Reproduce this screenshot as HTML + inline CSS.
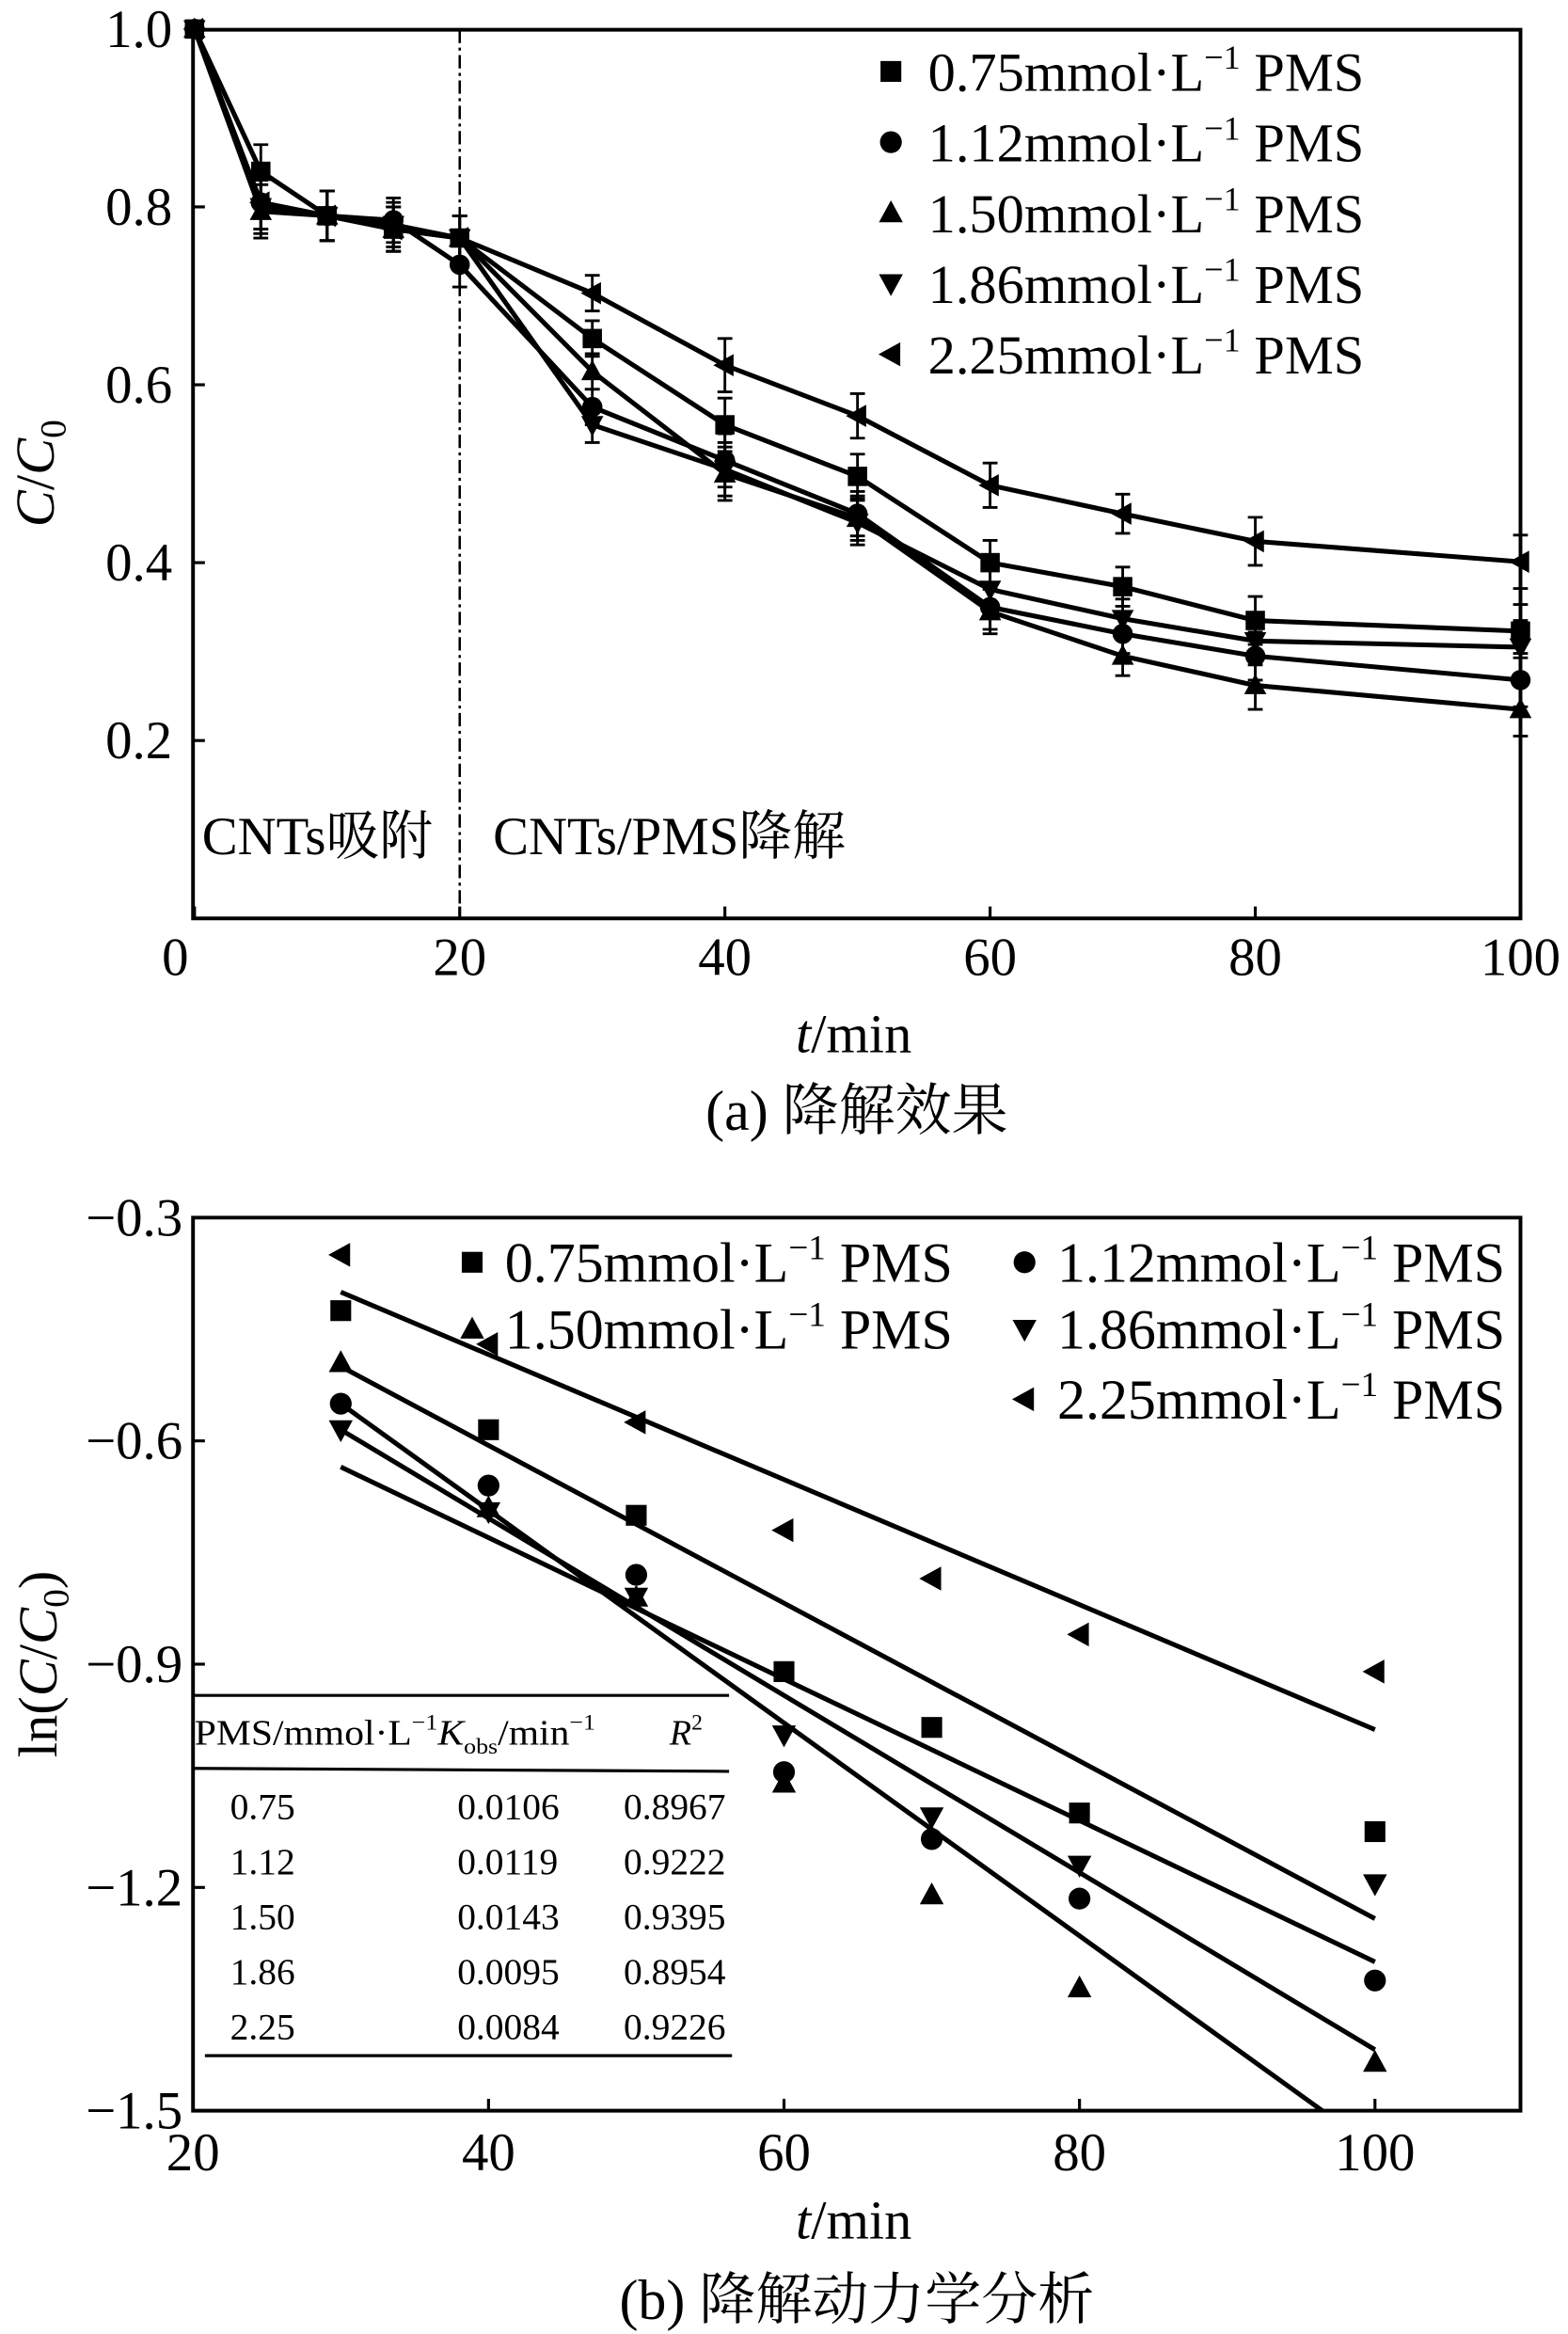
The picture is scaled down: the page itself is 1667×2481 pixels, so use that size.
<!DOCTYPE html>
<html><head><meta charset="utf-8"><style>
html,body{margin:0;padding:0;background:#fff;}
svg{display:block;}
text{font-family:"Liberation Serif","Noto Serif CJK SC","Noto Sans CJK SC",serif;fill:#000;}
</style></head><body>
<svg id="fig" xmlns="http://www.w3.org/2000/svg" width="1667" height="2481" viewBox="0 0 1056 1568" preserveAspectRatio="none">
<g id="ga"></g>
<g id="gb"></g>
</svg>
<script>
// ---------- Chart A data ----------
const timesA = [0, 5, 10, 15, 20, 30, 40, 50, 60, 70, 80, 100];
const seriesNames = ["0.75", "1.12", "1.50", "1.86", "2.25"];
const valA075 = [1.0, 0.84, 0.79, 0.775, 0.765, 0.652, 0.555, 0.497, 0.40, 0.373, 0.335, 0.323];
const valA112 = [1.0, 0.805, 0.79, 0.785, 0.735, 0.575, 0.515, 0.455, 0.35, 0.32, 0.295, 0.268];
const valA150 = [1.0, 0.795, 0.79, 0.775, 0.765, 0.615, 0.50, 0.45, 0.345, 0.295, 0.262, 0.235];
const valA186 = [1.0, 0.80, 0.79, 0.78, 0.765, 0.555, 0.505, 0.445, 0.37, 0.337, 0.312, 0.305];
const valA225 = [1.0, 0.805, 0.79, 0.775, 0.765, 0.703, 0.622, 0.565, 0.487, 0.455, 0.424, 0.401];
const errA = [0.005, 0.03, 0.028, 0.025, 0.025, 0.02, 0.03, 0.025, 0.025, 0.022, 0.027, 0.03];
const xTicksA = [0, 20, 40, 60, 80, 100];
const yTicksA = [0.2, 0.4, 0.6, 0.8, 1.0];
const yTickLabelsA = ["0.2", "0.4", "0.6", "0.8", "1.0"];
// ---------- Chart B data ----------
const timesB = [30, 40, 50, 60, 70, 80, 100];
const valB075 = [-0.425, -0.585, -0.70, -0.91, -0.985, -1.10, -1.125];
const valB112 = [-0.55, -0.66, -0.78, -1.045, -1.135, -1.215, -1.325];
const valB150 = [-0.495, -0.69, -0.81, -1.06, -1.21, -1.335, -1.435];
const valB186 = [-0.585, -0.695, -0.81, -0.995, -1.105, -1.17, -1.195];
const valB225 = [-0.35, -0.47, -0.575, -0.72, -0.785, -0.86, -0.91];
const fitStart = [-0.50, -0.585, -0.55, -0.635, -0.40];
const fitSlope = [-0.0106, -0.0119, -0.0143, -0.0095, -0.0084];
const xTicksB = [20, 40, 60, 80, 100];
const yTicksB = [-0.3, -0.6, -0.9, -1.2, -1.5];
const yTickLabelsB = ["\u22120.3", "\u22120.6", "\u22120.9", "\u22121.2", "\u22121.5"];
const tableK = ["0.0106", "0.0119", "0.0143", "0.0095", "0.0084"];
const tableR2 = ["0.8967", "0.9222", "0.9395", "0.8954", "0.9226"];

const NS = "http://www.w3.org/2000/svg";
function mk(parent, tag, attrs, txt) {
  const e = document.createElementNS(NS, tag);
  for (const k in attrs) e.setAttribute(k, attrs[k]);
  if (txt !== undefined) e.textContent = txt;
  parent.appendChild(e);
  return e;
}
function marker(g, kind, cx, cy, s) {
  let e;
  if (kind === 0) e = mk(g, "rect", {x: cx - s, y: cy - s, width: 2 * s, height: 2 * s});
  else if (kind === 1) e = mk(g, "circle", {cx: cx, cy: cy, r: s * 1.05});
  else if (kind === 2) e = mk(g, "polygon", {points: `${cx},${cy - s * 1.2} ${cx - s * 1.15},${cy + s * 0.9} ${cx + s * 1.15},${cy + s * 0.9}`});
  else if (kind === 3) e = mk(g, "polygon", {points: `${cx},${cy + s * 1.2} ${cx - s * 1.15},${cy - s * 0.9} ${cx + s * 1.15},${cy - s * 0.9}`});
  else e = mk(g, "polygon", {points: `${cx - s * 1.2},${cy} ${cx + s * 0.9},${cy - s * 1.15} ${cx + s * 0.9},${cy + s * 1.15}`});
  e.setAttribute('fill', '#000');
  return e;
}
function legendLabel(g, x, y, name, size) {
  const t = mk(g, "text", {x: x, y: y, "font-size": size});
  const a = document.createElementNS(NS, "tspan"); a.textContent = name + "mmol\u00B7L"; t.appendChild(a);
  const b = document.createElementNS(NS, "tspan"); b.setAttribute("dy", -size * 0.4); b.setAttribute("font-size", size * 0.62); b.textContent = "\u22121"; t.appendChild(b);
  const c = document.createElementNS(NS, "tspan"); c.setAttribute("dy", size * 0.4); c.textContent = " PMS"; t.appendChild(c);
  return t;
}

// ================= Chart A =================
(function () {
  const g = document.getElementById("ga");
  const L = 130, R = 1024, T = 20, B = 617;
  const xs = t => 131 + t * 8.93;
  const ys = v => 617 - v * 597.5;
  const ax = mk(g, "path", {d: `M${L},${T}H${R}V${B}H${L}Z`, fill: "none", stroke: "#000", "stroke-width": 2.5});
  
  
  xTicksA.forEach(t => {
    mk(g, "line", {x1: xs(t), x2: xs(t), y1: B, y2: B - 8, stroke: "#000", "stroke-width": 2});
    const lb = mk(g, "text", {x: t === 0 ? 118 : xs(t), y: 655, "font-size": 36, "text-anchor": "middle"}, String(t));
    
    
  });
  yTicksA.forEach((v, i) => {
    mk(g, "line", {x1: L, x2: L + 8, y1: ys(v), y2: ys(v), stroke: "#000", "stroke-width": 2});
    const lb = mk(g, "text", {x: 116, y: ys(v) + 12, "font-size": 36, "text-anchor": "end"}, yTickLabelsA[i]);
    
    
  });
  const dl = mk(g, "line", {x1: xs(20), x2: xs(20), y1: T, y2: B, stroke: "#000", "stroke-width": 1.6, "stroke-dasharray": "9 3 2 3"});
  
  
  const p1 = mk(g, "text", {x: 136, y: 574, "font-size": 36}, "CNTs吸附");
  
  
  const p2 = mk(g, "text", {x: 332, y: 574, "font-size": 36}, "CNTs/PMS降解");
  
  
  const vals = [valA075, valA112, valA150, valA186, valA225];
  vals.forEach((arr, si) => {
    const sg = mk(g, "g", {});
    
    
    const d = arr.map((v, i) => (i ? "L" : "M") + xs(timesA[i]) + "," + ys(v)).join("");
    const ln = mk(sg, "path", {d: d, fill: "none", stroke: "#000", "stroke-width": 3.2});
    
    
    arr.forEach((v, i) => {
      const x = xs(timesA[i]), y1 = ys(v + errA[i]), y2 = ys(v - errA[i]);
      mk(sg, "path", {d: `M${x},${y1}V${y2}M${x - 5},${y1}H${x + 5}M${x - 5},${y2}H${x + 5}`, stroke: "#000", "stroke-width": 1.8, fill: "none"});
      const m = marker(sg, si, x, ys(v), 6.5);
      
      
    });
  });
  const lg = mk(g, "g", {});
  
  
  seriesNames.forEach((n, i) => {
    const cy = 48 + i * 47.5;
    const m = marker(lg, i, 600, cy, 7);
    
    
    const t = legendLabel(lg, 625, cy + 13, n, 37);
    
    
  });
  const xt = mk(g, "text", {x: 575, y: 707, "font-size": 37, "text-anchor": "middle"});
  xt.innerHTML = '<tspan font-style="italic">t</tspan>/min';
  
  
  const yt = mk(g, "text", {x: 0, y: 0, "font-size": 37, "text-anchor": "middle", transform: "translate(36,318) rotate(-90)"});
  yt.innerHTML = '<tspan font-style="italic">C</tspan>/<tspan font-style="italic">C</tspan><tspan font-size="25" dy="8">0</tspan>';
  
  
  const cap = mk(g, "text", {x: 577, y: 759, "font-size": 38, "text-anchor": "middle"}, "(a) 降解效果");
  
  
})();

// ================= Chart B =================
(function () {
  const g = document.getElementById("gb");
  const L = 130, R = 1024, T = 818, B = 1418;
  const xs = t => 130 + (t - 20) * 9.95;
  const ys = v => 818 + (-0.3 - v) * 500;
  const clip = mk(g, "clipPath", {id: "clipb"});
  mk(clip, "rect", {x: L, y: T, width: R - L, height: B - T});
  const ax = mk(g, "path", {d: `M${L},${T}H${R}V${B}H${L}Z`, fill: "none", stroke: "#000", "stroke-width": 2.5});
  
  
  xTicksB.forEach(t => {
    mk(g, "line", {x1: xs(t), x2: xs(t), y1: B, y2: B - 8, stroke: "#000", "stroke-width": 2});
    const lb = mk(g, "text", {x: xs(t), y: 1458, "font-size": 36, "text-anchor": "middle"}, String(t));
    
    
  });
  yTicksB.forEach((v, i) => {
    mk(g, "line", {x1: L, x2: L + 8, y1: ys(v), y2: ys(v), stroke: "#000", "stroke-width": 2});
    const lb = mk(g, "text", {x: 123, y: ys(v) + 12, "font-size": 36, "text-anchor": "end"}, yTickLabelsB[i]);
    
    
  });
  const vals = [valB075, valB112, valB150, valB186, valB225];
  const fg = mk(g, "g", {"clip-path": "url(#clipb)"});
  
  
  fitStart.forEach((s, i) => {
    const l = mk(fg, "line", {x1: xs(30), y1: ys(s), x2: xs(100), y2: ys(s + fitSlope[i] * 70), stroke: "#000", "stroke-width": 3.2});
    
    
  });
  vals.forEach((arr, si) => {
    const sg = mk(g, "g", {});
    
    
    arr.forEach((v, i) => {
      const m = marker(sg, si, xs(timesB[i]), ys(v), 7);
      
      
    });
  });
  const lg = mk(g, "g", {});
  
  
  const lpos = [[318, 848], [690, 848], [318, 893], [690, 893], [690, 940]];
  seriesNames.forEach((n, i) => {
    const m = marker(lg, i, lpos[i][0], lpos[i][1], 7);
    
    
    const t = legendLabel(lg, lpos[i][0] + 22, lpos[i][1] + 13, n, 38);
    
    
  });
  // table
  const tb = mk(g, "g", {});
  
  
  mk(tb, "line", {x1: 130, x2: 491, y1: 1139, y2: 1139, stroke: "#000", "stroke-width": 2});
  mk(tb, "line", {x1: 130, x2: 491, y1: 1188, y2: 1190, stroke: "#000", "stroke-width": 2});
  mk(tb, "line", {x1: 138, x2: 493, y1: 1381, y2: 1381, stroke: "#000", "stroke-width": 2});
  const h = mk(tb, "text", {x: 131, y: 1172, "font-size": 24, textLength: 270, lengthAdjust: "spacingAndGlyphs"});
  h.innerHTML = 'PMS/mmol·L<tspan font-size="15" dy="-10">−1</tspan><tspan dy="10" font-style="italic">K</tspan><tspan font-size="15" dy="6">obs</tspan><tspan dy="-6">/min</tspan><tspan font-size="15" dy="-10">−1</tspan>';
  
  
  const r2 = mk(tb, "text", {x: 451, y: 1172, "font-size": 24});
  r2.innerHTML = '<tspan font-style="italic">R</tspan><tspan font-size="15" dy="-10">2</tspan>';
  
  
  seriesNames.forEach((n, i) => {
    const y = 1222 + i * 37;
    const a = mk(tb, "text", {x: 155, y: y, "font-size": 25}, n);
    
    
    const b = mk(tb, "text", {x: 308, y: y, "font-size": 25}, tableK[i]);
    
    
    const c = mk(tb, "text", {x: 420, y: y, "font-size": 25}, tableR2[i]);
    
    
  });
  const xt = mk(g, "text", {x: 575, y: 1504, "font-size": 37, "text-anchor": "middle"});
  xt.innerHTML = '<tspan font-style="italic">t</tspan>/min';
  
  
  const yt = mk(g, "text", {x: 0, y: 0, "font-size": 37, "text-anchor": "middle", transform: "translate(38,1118) rotate(-90)"});
  yt.innerHTML = 'ln(<tspan font-style="italic">C</tspan>/<tspan font-style="italic">C</tspan><tspan font-size="25" dy="8">0</tspan><tspan dy="-8">)</tspan>';
  
  
  const cap = mk(g, "text", {x: 577, y: 1558, "font-size": 38, "text-anchor": "middle"}, "(b) 降解动力学分析");
  
  
})();
</script>
</body></html>
